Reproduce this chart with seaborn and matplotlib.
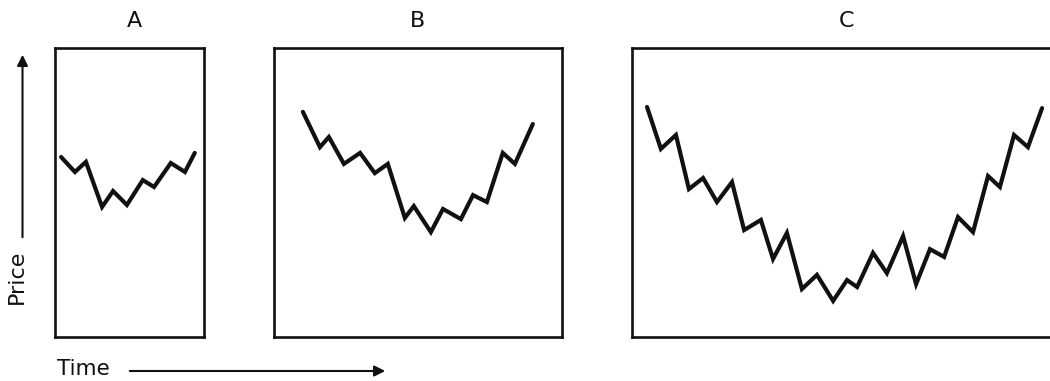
import matplotlib
matplotlib.use("Agg")
import matplotlib.pyplot as plt
import seaborn as sns
import pandas as pd

# ---- data (time units, price units 0-100) ----
panel_labels = ["A", "B", "C"]

time_a = [2.1, 6.9, 10.7, 16.3, 20.1, 24.9, 30.4, 34.3, 40.1, 45.0, 48.4]
price_a = [62.3, 57.1, 60.6, 45.0, 50.5, 45.7, 54.3, 51.9, 60.2, 57.1, 63.7]

time_b = [10.0, 15.9, 19.0, 24.2, 29.8, 34.9, 39.4, 45.3, 48.4, 54.3, 58.5,
          64.7, 68.9, 73.7, 79.2, 83.4, 89.6]
price_b = [77.9, 65.7, 69.2, 59.9, 63.7, 56.7, 59.9, 41.2, 45.3, 36.3, 44.3,
           40.8, 49.1, 46.7, 63.7, 59.9, 73.7]

time_c = [5.2, 10.0, 15.2, 19.7, 24.6, 29.4, 34.6, 38.8, 44.6, 48.8, 53.6,
          58.8, 64.0, 69.6, 74.4, 77.9, 83.4, 88.2, 93.8, 98.3, 103.1, 108.0,
          112.8, 118.0, 123.2, 127.3, 132.2, 137.0, 141.9]
price_c = [79.6, 65.1, 69.9, 51.2, 55.0, 46.7, 53.6, 37.0, 40.5, 27.0, 36.0,
           16.6, 21.5, 12.5, 19.7, 17.3, 29.1, 22.1, 34.9, 18.3, 30.4, 27.7,
           41.5, 36.3, 55.7, 51.9, 69.9, 65.7, 79.2]

time_spans = [51.6, 99.7, 148.1]
axis_label_x = "Time"
axis_label_y = "Price"

sns.set_style("white")
plt.rcParams["font.family"] = ["DejaVu Sans"]

W, H = 1050, 381
fig = plt.figure(figsize=(W / 100, H / 100), dpi=100)
fig.patch.set_facecolor("white")

# panel boxes in pixels (left, right); top/bottom shared
boxes = [(55, 204), (274, 562), (632, 1060)]
top_px, bot_px = 48, 337
label_xfrac = [0.53, 0.5, 0.5]

series = [(time_a, price_a), (time_b, price_b), (time_c, price_c)]

for (l, r), (t, p), span, lab, lx in zip(boxes, series, time_spans, panel_labels, label_xfrac):
    ax = fig.add_axes([l / W, (H - bot_px) / H, (r - l) / W, (bot_px - top_px) / H])
    df = pd.DataFrame({"time": t, "price": p})
    sns.lineplot(data=df, x="time", y="price", ax=ax, color="#111111",
                 linewidth=3.0, sort=False, solid_joinstyle="miter")
    ax.set_xlim(0, span)
    ax.set_ylim(0, 100)
    ax.set_xticks([])
    ax.set_yticks([])
    ax.set_xlabel("")
    ax.set_ylabel("")
    for s in ax.spines.values():
        s.set_visible(True)
        s.set_color("#111111")
        s.set_linewidth(1.9)
    ax.text(lx, 1 + (top_px - 21) / (bot_px - top_px), lab, transform=ax.transAxes,
            ha="center", va="center", fontsize=16, color="#111111")

# Price arrow (vertical)
fig.text(17 / W, 1 - 277 / H, axis_label_y, rotation=90, ha="center", va="center",
         fontsize=16, color="#111111")
fig.add_artist(matplotlib.patches.FancyArrowPatch(
    (22.5, H - 240), (22.5, H - 52), transform=None,
    arrowstyle="-|>", mutation_scale=16, linewidth=1.5, color="#111111"))

# Time arrow (horizontal)
fig.text(57 / W, 1 - 369 / H, axis_label_x, ha="left", va="center",
         fontsize=15.5, color="#111111")
fig.add_artist(matplotlib.patches.FancyArrowPatch(
    (127, H - 371), (388, H - 371), transform=None,
    arrowstyle="-|>", mutation_scale=16, linewidth=1.5, color="#111111"))

fig.savefig("out.png", dpi=100, facecolor="white")
